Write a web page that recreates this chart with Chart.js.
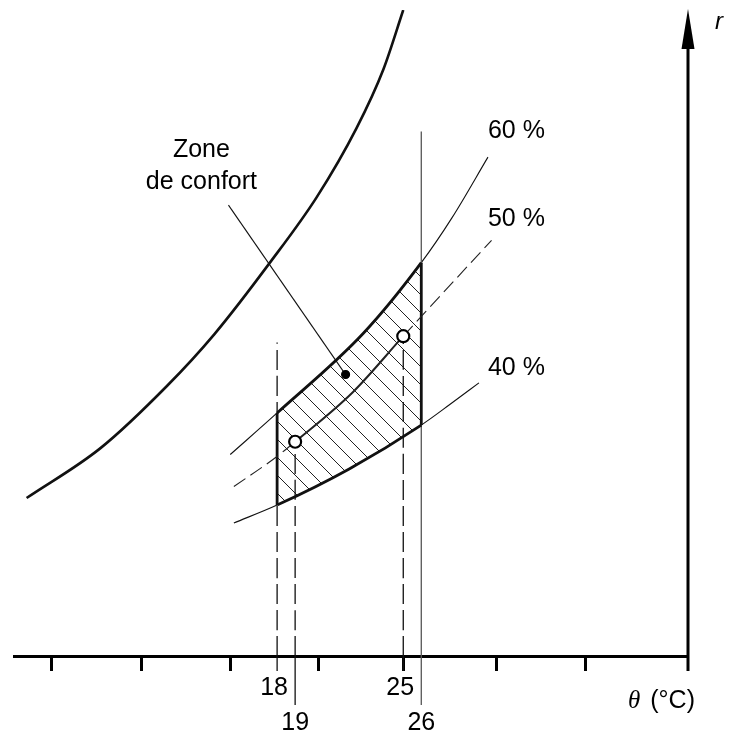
<!DOCTYPE html>
<html>
<head>
<meta charset="utf-8">
<script src="https://cdn.jsdelivr.net/npm/chart.js@4.4.1/dist/chart.umd.min.js"></script>
<style>
html, body { margin: 0; padding: 0; background: #fff; }
#wrap { width: 732px; height: 733px; }
</style>
</head>
<body>
<div id="wrap"><canvas id="graf"></canvas></div>
<script>
var satT = [4.1, 8.2, 11.9, 14.5, 17.6, 20.2, 22.4, 23.9, 25.0];
var satR = [4.94, 6.5, 8.45, 10.05, 12.3, 14.35, 16.5, 18.35, 20.2];
var rh60T = [15.4, 18, 22.8, 26, 27.7, 29.7];
var rh60R = [6.3, 7.6, 10.1, 12.3, 13.7, 15.6];
var rh50T = [15.6, 17.9, 19, 22.2, 25, 26.3, 29.9];
var rh50R = [5.3, 6.2, 6.7, 8.25, 10.0, 10.8, 13.0];
var rh40T = [15.6, 18, 22, 26, 27.6, 29.2];
var rh40R = [4.16, 4.72, 5.85, 7.22, 7.87, 8.54];

var zoneT = [18, 26];           // limites de la zone de confort
var pointsT = [19, 25];         // points sur la courbe 50 %
var markLabels = ["18", "19", "25", "26"];
var markT = [18, 19, 25, 26];
var tickT = [5.5, 10.5, 15.4, 20.3, 25, 30.2, 35.1];
var comfortPt = [21.8, 8.8];
var leaderStart = [15.3, 14.1];
var top18 = 9.8, top26 = 16.4;

function pts(t, r) { return t.map(function (v, i) { return {x: v, y: r[i]}; }); }
function at(t, r, v) { return r[t.indexOf(v)]; }

// hachures de la zone
var step = 18;
var tile = document.createElement("canvas");
tile.width = step; tile.height = step;
var tc = tile.getContext("2d");
tc.strokeStyle = "#222"; tc.lineWidth = 1;
[-step, 0, step].forEach(function (o) {
  tc.beginPath(); tc.moveTo(o - 2, -2); tc.lineTo(o + step + 2, step + 2); tc.stroke();
});
var hatch = tc.createPattern(tile, "repeat");

function inZone(c) { return c.p0.parsed.x >= zoneT[0] && c.p1.parsed.x <= zoneT[1]; }
function between(c) { return c.p0.parsed.x >= pointsT[0] && c.p1.parsed.x <= pointsT[1]; }

function line(data, extra) {
  return Object.assign({data: data, pointRadius: 0, borderColor: "#111", borderWidth: 1.1,
    cubicInterpolationMode: "monotone", fill: false}, extra);
}

var datasets = [
  line(pointsT.map(function (v) { return {x: v, y: at(rh50T, rh50R, v)}; }),
    {showLine: false, pointRadius: 6, pointBackgroundColor: "#fff", pointBorderColor: "#000", pointBorderWidth: 2.2, order: 0}),
  line([{x: comfortPt[0], y: comfortPt[1]}],
    {showLine: false, pointRadius: 4, pointBackgroundColor: "#000", pointBorderColor: "#000", order: 1}),
  line(pts(rh50T, rh50R), {borderColor: "#222", order: 2, segment: {
    borderDash: function (c) { return between(c) ? [] : [14, 6]; },
    borderWidth: function (c) { return between(c) ? 2 : 1.1; }
  }}),
  line([{x: 18, y: at(rh40T, rh40R, 18)}, {x: 18, y: at(rh60T, rh60R, 18)}], {borderWidth: 2.8, order: 3}),
  line([{x: 26, y: at(rh40T, rh40R, 26)}, {x: 26, y: at(rh60T, rh60R, 26)}], {borderWidth: 2.8, order: 3}),
  line(pts(rh40T, rh40R), {order: 4, segment: {
    borderWidth: function (c) { return inZone(c) ? 2.8 : 1.1; }
  }}),
  line([{x: leaderStart[0], y: leaderStart[1]}, {x: comfortPt[0], y: comfortPt[1]}], {borderWidth: 1.1, order: 5}),
  line([{x: 18, y: 0}, {x: 18, y: top18}], {borderDash: [20, 6], borderWidth: 1.3, order: 6}),
  line([{x: 19, y: 0}, {x: 19, y: at(rh50T, rh50R, 19)}], {borderDash: [20, 6], borderWidth: 1.3, order: 6}),
  line([{x: 25, y: 0}, {x: 25, y: at(rh50T, rh50R, 25)}], {borderDash: [20, 6], borderWidth: 1.3, order: 6}),
  line([{x: 26, y: 0}, {x: 26, y: top26}], {borderColor: "#555", borderWidth: 1.3, order: 6}),
  line(pts(satT, satR), {borderWidth: 2.6, order: 7}),
  line(pts(rh60T, rh60R), {order: 10, fill: {target: 5}, backgroundColor: "rgba(0,0,0,0)", segment: {
    borderWidth: function (c) { return inZone(c) ? 2.8 : 1.1; },
    backgroundColor: function (c) { return inZone(c) ? hatch : undefined; }
  }})
];

var SANS = '25px "Liberation Sans", Arial, sans-serif';

var extras = {
  id: "extras",
  afterDraw: function (chart) {
    var ctx = chart.ctx, a = chart.chartArea, x = chart.scales.x, y = chart.scales.y;
    ctx.save();
    // axe r avec flèche
    ctx.strokeStyle = "#000"; ctx.fillStyle = "#000"; ctx.lineWidth = 3;
    ctx.beginPath(); ctx.moveTo(a.right, a.top + 30); ctx.lineTo(a.right, a.bottom + 15); ctx.stroke();
    ctx.beginPath();
    ctx.moveTo(a.right, a.top - 1);
    ctx.lineTo(a.right - 6.5, a.top + 39);
    ctx.lineTo(a.right + 6.5, a.top + 39);
    ctx.closePath(); ctx.fill();

    // prolongements sous l'axe
    markT.forEach(function (v, i) {
      var px = x.getPixelForValue(v);
      ctx.strokeStyle = v === 26 ? "#555" : "#111";
      ctx.lineWidth = 1.3;
      ctx.beginPath(); ctx.moveTo(px, a.bottom);
      ctx.lineTo(px, a.bottom + (i % 2 === 0 ? 15 : 49)); ctx.stroke();
    });

    ctx.fillStyle = "#000";
    ctx.font = SANS;
    ctx.textAlign = "center"; ctx.textBaseline = "alphabetic";
    markT.forEach(function (v, i) {
      var px = x.getPixelForValue(v);
      if (i % 2 === 0) ctx.fillText(markLabels[i], px - 3, a.bottom + 39);
      else ctx.fillText(markLabels[i], px, a.bottom + 74);
    });

    // libellés des courbes
    ctx.textAlign = "left";
    [["60 %", 29.7, 16.2], ["50 %", 29.7, 13.45], ["40 %", 29.7, 8.8]].forEach(function (l) {
      ctx.fillText(l[0], x.getPixelForValue(l[1]), y.getPixelForValue(l[2]));
    });
    ctx.textAlign = "center";
    ctx.fillText("Zone", x.getPixelForValue(13.8), y.getPixelForValue(15.6));
    ctx.fillText("de confort", x.getPixelForValue(13.8), y.getPixelForValue(14.6));

    // titres des axes
    ctx.textAlign = "right";
    ctx.fillText("(°C)", a.right + 7, a.bottom + 52);
    var w = ctx.measureText("(°C)").width;
    ctx.font = 'italic 25px "Liberation Serif", serif';
    ctx.fillText("θ", a.right + 7 - w - 10, a.bottom + 52);
    ctx.font = 'italic 24px "Liberation Sans", Arial, sans-serif';
    ctx.textAlign = "center";
    ctx.fillText("r", a.right + 31, a.top + 19);
    ctx.restore();
  }
};

new Chart(document.getElementById("graf"), {
  type: "line",
  data: {datasets: datasets},
  options: {
    responsive: true,
    maintainAspectRatio: false,
    animation: false,
    layout: {padding: {left: 14, top: 10, right: 0, bottom: 0}},
    plugins: {legend: {display: false}, tooltip: {enabled: false}},
    scales: {
      x: {
        type: "linear", min: 3.4, max: 40.8,
        afterBuildTicks: function (s) { s.ticks = tickT.map(function (v) { return {value: v}; }); },
        afterFit: function (s) { s.height = 77; },
        ticks: {display: false},
        grid: {display: true, drawOnChartArea: false, drawTicks: true, tickLength: 15, tickWidth: 3, tickColor: "#000"},
        border: {display: true, width: 3, color: "#000"}
      },
      y: {
        type: "linear", position: "right", min: 0, max: 20.2,
        afterFit: function (s) { s.width = 44; },
        ticks: {display: false},
        grid: {display: false},
        border: {display: false}
      }
    }
  },
  plugins: [extras]
});
</script>
</body>
</html>
